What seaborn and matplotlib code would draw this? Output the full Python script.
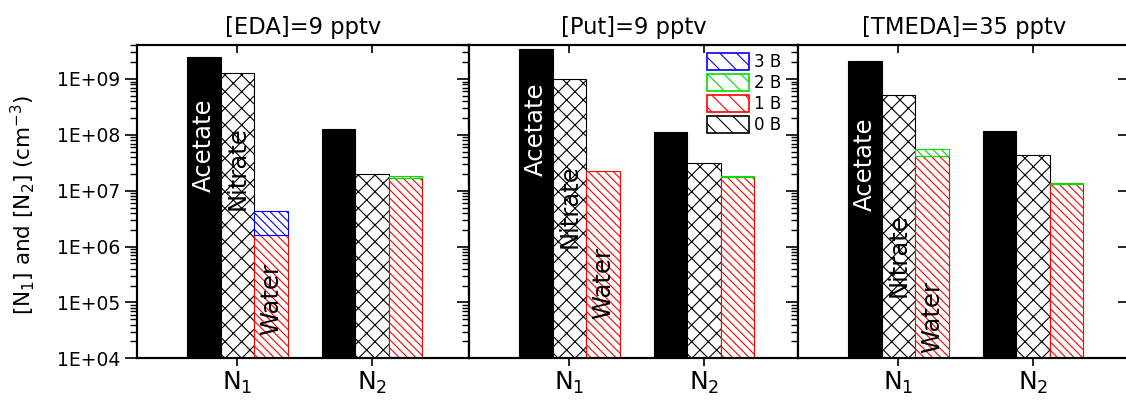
import numpy as np
import pandas as pd
import matplotlib
matplotlib.use("Agg")
import matplotlib.pyplot as plt
from matplotlib.patches import Patch
from matplotlib.ticker import FuncFormatter, LogLocator, NullFormatter, NullLocator
import seaborn as sns

sns.set_style("ticks")
plt.rcParams["font.family"] = ["DejaVu Sans"]
plt.rcParams["mathtext.default"] = "regular"
plt.rcParams["hatch.linewidth"] = 0.8
for key in ["text.color", "axes.labelcolor", "xtick.color", "ytick.color", "axes.edgecolor"]:
    plt.rcParams[key] = "black"

# ---- data -------------------------------------------------------------
titles = ["[EDA]=9 pptv", "[Put]=9 pptv", "[TMEDA]=35 pptv"]
clusters = ["N$_1$", "N$_2$"]
species = ["Acetate", "Nitrate", "Water"]

# concentrations (cm^-3), one [N1, N2] pair per amine
acetate = [[2.5e9, 1.28e8], [3.4e9, 1.14e8], [2.1e9, 1.16e8]]
nitrate = [[1.27e9, 2.0e7], [1.0e9, 3.1e7], [5.2e8, 4.4e7]]
water_1b = [[1.6e6, 1.72e7], [2.3e7, 1.77e7], [4.1e7, 1.30e7]]
water_2b = [[0.0, 1.2e6], [0.0, 0.7e6], [1.4e7, 0.6e6]]
water_3b = [[2.7e6, 0.0], [0.0, 0.0], [0.0, 0.0]]

legend_labels = ["3 B", "2 B", "1 B", "0 B"]
legend_colors = ["blue", "#00dd00", "red", "black"]

# vertical placement of the in-bar names (Acetate, Nitrate, Water)
name_y = [[6.4e7, 2.55e7, 1.15e5],
          [1.27e8, 5.2e6, 2.27e5],
          [3.0e7, 7.1e5, 5.6e4]]

# ---- layout -----------------------------------------------------------
W, H = 1126, 400
fig = plt.figure(figsize=(W / 100, H / 100), dpi=100)
lefts = [137, 469, 798]
widths = [332, 329, 332]
top_px, bot_px = 45, 358.3
px_per_unit = 134.5
x0 = -0.747

BAR_HATCH = "\\\\\\\\"
fmt = FuncFormatter(lambda v, p: f"1E+{int(round(np.log10(v))):02d}")

for i in range(3):
    ax = fig.add_axes([lefts[i] / W, 1 - bot_px / H, widths[i] / W, (bot_px - top_px) / H])
    df = pd.DataFrame({
        "cluster": clusters * 3,
        "species": np.repeat(species, 2),
        "value": acetate[i] + nitrate[i] + water_1b[i],
    })
    sns.barplot(data=df, x="cluster", y="value", hue="species",
                order=clusters, hue_order=species, width=0.75,
                palette=["black", "white", "white"], saturation=1,
                errorbar=None, legend=False, ax=ax)
    ax.set_yscale("log")

    c_ac, c_ni, c_wa = ax.containers[:3]
    for p in c_ac:
        p.set_facecolor("black"); p.set_edgecolor("black"); p.set_linewidth(0.8)
    for p in c_ni:
        p.set_facecolor("white"); p.set_edgecolor("black"); p.set_hatch("xx"); p.set_linewidth(0.8)
    for p in c_wa:
        p.set_facecolor("white"); p.set_edgecolor("red"); p.set_hatch(BAR_HATCH); p.set_linewidth(0.8)

    # stacked 2 B and 3 B parts of the water bars
    wx = [p.get_x() + p.get_width() / 2 for p in c_wa]
    ww = c_wa[0].get_width()
    b1 = np.array(water_1b[i])
    b2 = np.array(water_2b[i])
    b3 = np.array(water_3b[i])
    for j in range(2):
        if b2[j] > 0:
            ax.bar(wx[j], b2[j], bottom=b1[j], width=ww, facecolor="white",
                   edgecolor="#00dd00", hatch=BAR_HATCH, linewidth=0.8)
        if b3[j] > 0:
            ax.bar(wx[j], b3[j], bottom=b1[j] + b2[j], width=ww, facecolor="white",
                   edgecolor="blue", hatch=BAR_HATCH, linewidth=0.8)

    # names written along the N1 bars
    bars_n1 = [c_ac[0], c_ni[0], c_wa[0]]
    colors = ["white", "black", "black"]
    for k, p in enumerate(bars_n1):
        ax.text(p.get_x() + p.get_width() / 2, name_y[i][k], species[k],
                rotation=90, ha="center", va="center", color=colors[k],
                fontsize=17.5, zorder=5)

    xlim = (x0, x0 + widths[i] / px_per_unit)
    ax.set_xlim(*xlim)
    ax.set_ylim(1e4, 4.06e9)
    ax.set_xlabel("")
    ax.set_ylabel("")
    ax.set_title(titles[i], fontsize=16.3, pad=8)

    for s in ax.spines.values():
        s.set_visible(True)
        s.set_linewidth(1.5)
        s.set_color("black")

    ax.yaxis.set_major_locator(LogLocator(base=10, numticks=20))
    ax.yaxis.set_minor_locator(LogLocator(base=10, subs=np.arange(2, 10), numticks=20))
    ax.yaxis.set_minor_formatter(NullFormatter())
    ax.tick_params(axis="y", which="major", direction="out", length=8.6, width=1.2,
                   labelsize=13.5, pad=3.5, left=True, right=False)
    ax.tick_params(axis="y", which="minor", direction="out", length=5, width=1.0,
                   left=True, right=False)
    if i == 0:
        ax.yaxis.set_major_formatter(fmt)
        ax.set_ylabel("[N$_1$] and [N$_2$] (cm$^{-3}$)", fontsize=15.5)
        ax.yaxis.set_label_coords(-0.30, 0.49)
    else:
        ax.tick_params(axis="y", which="both", labelleft=False)

    ax.tick_params(axis="x", direction="out", length=6, width=1.2,
                   labelsize=18, pad=2, bottom=True, top=False)

    # inward ticks on the top edge, at the same cluster positions
    axt = ax.twiny()
    axt.set_xlim(*xlim)
    axt.set_xticks(ax.get_xticks())
    axt.tick_params(axis="x", which="both", direction="in", length=6, width=1.2,
                    top=True, bottom=False, labeltop=False, labelbottom=False)
    axt.yaxis.set_visible(False)
    for s in axt.spines.values():
        s.set_linewidth(1.5)

    if i == 2:
        secy = ax.secondary_yaxis("right")
        secy.yaxis.set_minor_locator(NullLocator())
        secy.tick_params(axis="y", which="major", direction="in", length=8.6,
                         width=1.2, labelright=False)
        secy.spines["right"].set_linewidth(1.5)

    if i == 1:
        handles = [Patch(facecolor="white", edgecolor=c, hatch="\\\\", linewidth=1.2)
                   for c in legend_colors]
        axt.legend(handles, legend_labels, loc="upper left",
                   bbox_to_anchor=(0.7234, 0.9735), frameon=False, fontsize=12,
                   borderpad=0, borderaxespad=0, handlelength=2.5, handleheight=1.2,
                   handletextpad=0.3, labelspacing=0.16)

fig.savefig("out.png", dpi=100)
